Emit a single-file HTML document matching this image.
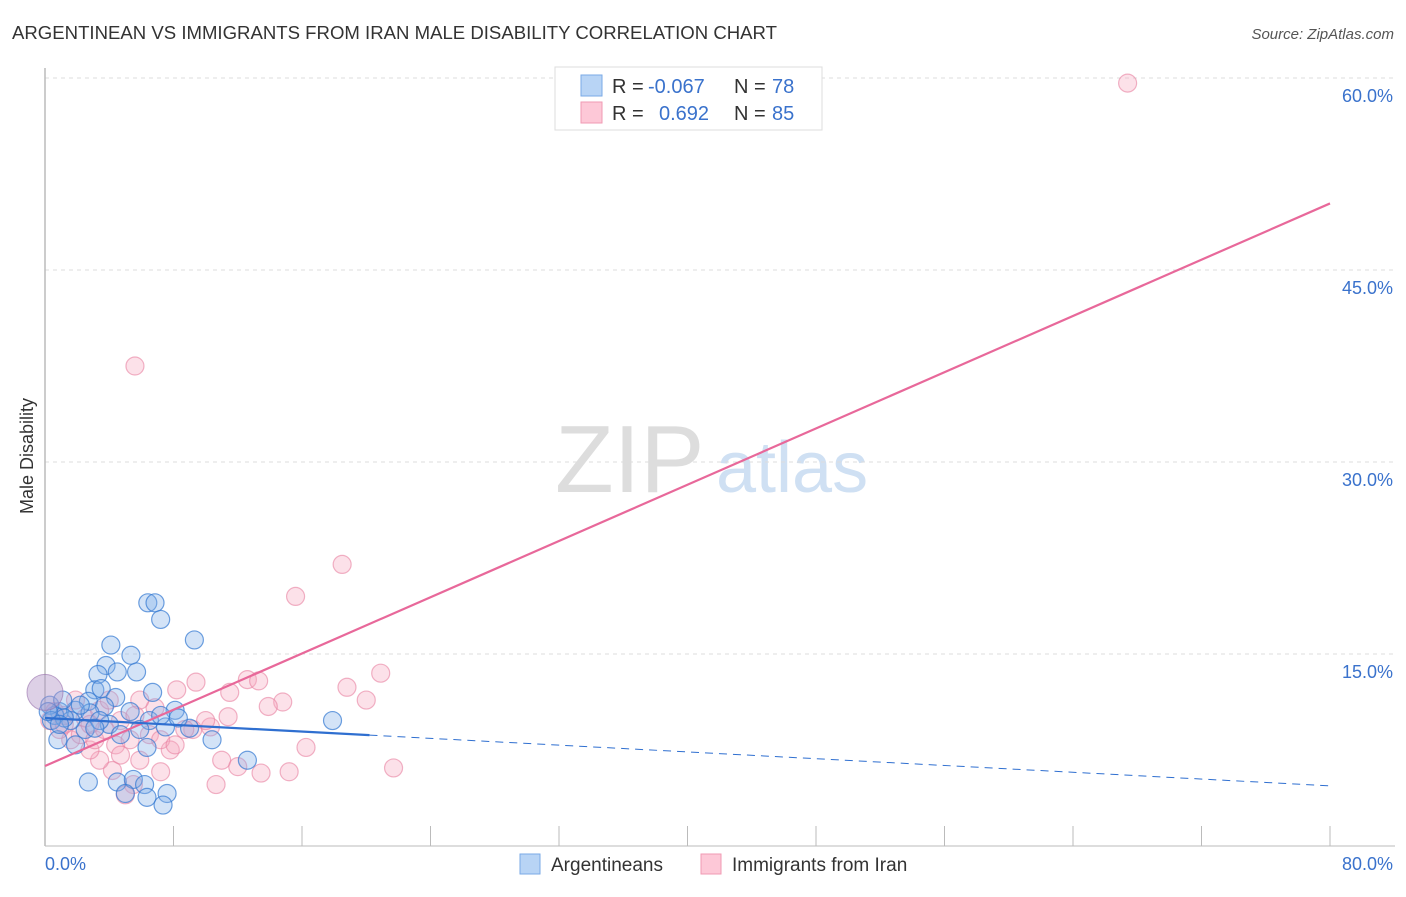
<!DOCTYPE html>
<html><head><meta charset="utf-8"><style>
body{margin:0;background:#fff;font-family:"Liberation Sans",sans-serif;}
svg text{font-family:"Liberation Sans",sans-serif;}
</style></head><body>
<svg id="chart" width="1406" height="892" xmlns="http://www.w3.org/2000/svg">
<text x="12" y="39" font-size="18" fill="#333" textLength="765" lengthAdjust="spacingAndGlyphs">ARGENTINEAN VS IMMIGRANTS FROM IRAN MALE DISABILITY CORRELATION CHART</text>
<text x="1394" y="39" font-size="15" fill="#555" text-anchor="end" font-style="italic">Source: ZipAtlas.com</text>
<g>
<text x="555" y="492" font-size="96" font-family="Liberation Serif" fill="#ddd">ZIP</text>
<text x="716" y="492" font-size="72" fill="#cfe0f3">atlas</text>
</g>
<g id="grid"></g>
<g id="yticks"></g>
<g id="xticks"></g>
<line x1="45" y1="68" x2="45" y2="846" stroke="#bbb" stroke-width="1.5"/>
<line x1="45" y1="846" x2="1395" y2="846" stroke="#bbb" stroke-width="1"/>
<text transform="translate(33,456) rotate(-90)" font-size="18" fill="#333" text-anchor="middle">Male Disability</text>
<g id="pink"></g>
<g id="blue"></g>
<g id="trends"></g>
<g>
<rect x="555" y="67" width="267" height="63" fill="#fff" stroke="#ddd"/>
<rect x="581" y="75" width="21" height="21" fill="#b8d4f5" stroke="#7aaae6"/>
<rect x="581" y="102" width="21" height="21" fill="#fdc8d7" stroke="#f09ab3"/>
<text x="612" y="93" font-size="20" fill="#333">R =</text>
<text x="648" y="93" font-size="20" fill="#3a72cc">-0.067</text>
<text x="734" y="93" font-size="20" fill="#333">N =</text>
<text x="772" y="93" font-size="20" fill="#3a72cc">78</text>
<text x="612" y="120" font-size="20" fill="#333">R =</text>
<text x="659" y="120" font-size="20" fill="#3a72cc">0.692</text>
<text x="734" y="120" font-size="20" fill="#333">N =</text>
<text x="772" y="120" font-size="20" fill="#3a72cc">85</text>
</g>
<g>
<rect x="520" y="854" width="20" height="20" fill="#b8d4f5" stroke="#7aaae6"/>
<text x="551" y="871" font-size="19" fill="#333">Argentineans</text>
<rect x="701" y="854" width="20" height="20" fill="#fdc8d7" stroke="#f09ab3"/>
<text x="732" y="871" font-size="19" fill="#333">Immigrants from Iran</text>
</g>
</svg>
<script>
const yTicks=[15,30,45,60];
const yTickLabels=["15.0%","30.0%","45.0%","60.0%"];
const xTicks=[0,8,16,24,32,40,48,56,64,72,80];
const xEndLabels=["0.0%","80.0%"];
const blueX=[6.4,6.85,7.2,9.3,4.1,5.35,3.8,5.7,4.5,3.3,3.1,3.5,6.7,4.4,2.7,3.7,8.1,0.9,1.9,2.8,5.3,6.5,9.0,7.5,17.9,12.6,2.7,4.5,5.5,6.2,5.0,6.35,7.6,7.35,10.4,6.35,0.8,2.5,4.0,1.6,0.6,0.3,1.1,2.2,3.4,4.7,5.9,1.9,7.2,8.3,1.2,3.1,0.4,0.2,0.9];
const blueY=[19.0,19.0,17.7,16.1,15.7,14.9,14.1,13.6,13.6,13.4,12.2,12.3,12.0,11.6,11.3,10.9,10.6,10.5,10.6,10.4,10.5,9.8,9.2,9.3,9.8,6.7,5.0,5.0,5.2,4.8,4.1,3.8,4.1,3.2,8.3,7.7,8.3,9.1,9.5,9.8,10.2,11.0,11.4,11.0,9.8,8.7,9.1,7.9,10.2,10.0,10.0,9.2,9.8,10.5,9.5];
const pinkX=[67.4,5.6,18.5,15.6,20.9,18.8,20.0,12.6,13.3,9.4,8.2,11.5,14.8,13.9,11.4,10.3,6.85,9.2,11.0,12.0,16.25,13.45,15.2,10.65,7.2,21.7,5.5,5.0,4.2,3.4,2.8,1.6,0.9,0.3,1.2,2.2,3.1,4.4,5.3,6.5,7.8,8.7,5.9,4.7,3.7,2.5,1.9,0.6,1.2,4.7,5.6,3.4,7.2,8.1,10.0,2.8,4.0,5.9];
const pinkY=[59.6,37.5,22.0,19.5,13.5,12.4,11.4,13.0,12.9,12.8,12.2,12.0,11.25,10.9,10.1,9.3,10.8,9.1,6.7,6.2,7.7,5.7,5.8,4.8,5.8,6.1,4.8,4.0,5.9,6.7,7.5,8.3,9.1,9.8,9.5,8.7,8.3,7.9,8.3,8.7,7.5,9.1,6.7,7.1,9.1,10.0,11.4,10.5,10.2,9.8,10.2,10.6,8.3,7.9,9.8,9.5,11.4,11.4];
const pinkTrend=[6.25,50.2];
const blueTrend=[10.0,4.7];
const blueSolidEnd=20.2;
const X=v=>45+v*(1285/80);
const Y=v=>846-v*12.8;
const NS="http://www.w3.org/2000/svg";
function mk(tag,attrs,parent){const e=document.createElementNS(NS,tag);for(const k in attrs)e.setAttribute(k,attrs[k]);parent.appendChild(e);return e;}
const grid=document.getElementById('grid'),yt=document.getElementById('yticks'),xt=document.getElementById('xticks');
yTicks.forEach((t,i)=>{
 const l=mk('line',{x1:45,x2:1395,y1:Y(t),y2:Y(t),stroke:'#ddd','stroke-dasharray':'4,4'},grid);
 
 
 const tx=mk('text',{x:1393,y:Y(t)+24,'font-size':18,fill:'#3a72cc','text-anchor':'end'},yt);
 tx.textContent=yTickLabels[i];
 
 
});
xTicks.forEach(t=>{
 const l=mk('line',{x1:X(t),x2:X(t),y1:826,y2:846,stroke:'#bbb'},xt);
 
 
});
[[0,'start',45],[80,'end',1393]].forEach((d,i)=>{
 const tx=mk('text',{x:d[2],y:870,'font-size':18,fill:'#3a72cc','text-anchor':d[1]},xt);
 tx.textContent=xEndLabels[i];
 
 
});
const pg=document.getElementById('pink'),bg=document.getElementById('blue');
pinkX.forEach((x,i)=>{
 const c=mk('circle',{cx:X(x),cy:Y(pinkY[i]),r:9,fill:'rgba(246,170,192,0.35)',stroke:'rgba(232,128,160,0.6)','stroke-width':1.2},pg);
 
 
});
blueX.forEach((x,i)=>{
 const c=mk('circle',{cx:X(x),cy:Y(blueY[i]),r:9,fill:'rgba(130,175,232,0.35)',stroke:'rgba(50,120,210,0.7)','stroke-width':1.2},bg);
 
 
});
const big=mk('circle',{cx:X(0),cy:Y(12),r:18,fill:'rgba(180,150,200,0.45)',stroke:'rgba(150,110,170,0.6)'},bg);


const tg=document.getElementById('trends');
const bl=v=>blueTrend[0]+(blueTrend[1]-blueTrend[0])*v/80;
const p=mk('line',{x1:X(0),y1:Y(pinkTrend[0]),x2:X(80),y2:Y(pinkTrend[1]),stroke:'#e8689a','stroke-width':2.2},tg);


const b1=mk('line',{x1:X(0),y1:Y(bl(0)),x2:X(blueSolidEnd),y2:Y(bl(blueSolidEnd)),stroke:'#2f6fd0','stroke-width':2.2},tg);


const b2=mk('line',{x1:X(blueSolidEnd),y1:Y(bl(blueSolidEnd)),x2:X(80),y2:Y(bl(80)),stroke:'#2f6fd0','stroke-width':1,'stroke-dasharray':'8,6'},tg);


</script>
</body></html>
